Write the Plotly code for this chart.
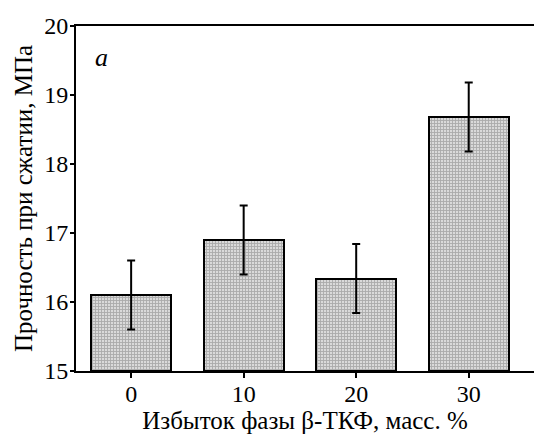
import plotly.graph_objects as go

categories = [0, 10, 20, 30]
values = [16.1, 16.9, 16.34, 18.68]
errors = [0.5, 0.5, 0.5, 0.5]
y_ticks = [15, 16, 17, 18, 19, 20]
x_title = "Избыток фазы β-ТКФ, масс. %"
y_title = "Прочность при сжатии, МПа"
panel_label = "a"

FONT = "'Liberation Serif', 'Times New Roman', serif"

fig = go.Figure()
fig.add_trace(go.Bar(
    x=categories,
    y=[v - 15 for v in values],
    base=15,
    width=7.1,
    marker=dict(
        color="#c8c8c8",
        line=dict(color="black", width=2),
        pattern=dict(shape="+", size=3, solidity=0.5, fgcolor="#7c7c7c", bgcolor="#dadada"),
    ),
    error_y=dict(type="data", array=errors, visible=True, color="black", thickness=2, width=4),
    showlegend=False,
))

fig.update_layout(
    width=534, height=436,
    margin=dict(l=76, r=0, t=26, b=65),
    plot_bgcolor="white", paper_bgcolor="white",
    font=dict(family=FONT, color="black", size=24),
    bargap=0,
    xaxis=dict(
        range=[-4.9, 35.8],
        tickvals=categories,
        ticktext=[str(c) for c in categories],
        ticks="outside", ticklen=5, tickwidth=2, tickcolor="black",
        showline=True, linecolor="black", linewidth=2, mirror=True,
        showgrid=False, zeroline=False,
        tickfont=dict(size=24, family=FONT),
        ticklabelstandoff=-5,
        title=dict(text=x_title, font=dict(size=25, family=FONT), standoff=6),
        automargin=False,
    ),
    yaxis=dict(
        range=[15, 20],
        tickvals=y_ticks,
        ticks="outside", ticklen=4, tickwidth=2, tickcolor="black",
        showline=True, linecolor="black", linewidth=2, mirror=False,
        showgrid=False, zeroline=False,
        tickfont=dict(size=24, family=FONT),
        ticklabelstandoff=-3,
        title=dict(text=y_title, font=dict(size=25, family=FONT), standoff=4),
        automargin=False,
    ),
    annotations=[dict(
        text="<i>" + panel_label + "</i>", x=0.055, y=0.91, xref="paper", yref="paper",
        showarrow=False, font=dict(size=26, family=FONT), xanchor="center", yanchor="middle",
    )],
)

fig.write_html("out.html", config={"displayModeBar": False},
               post_script="document.body.style.margin='0';document.body.style.padding='0';")
